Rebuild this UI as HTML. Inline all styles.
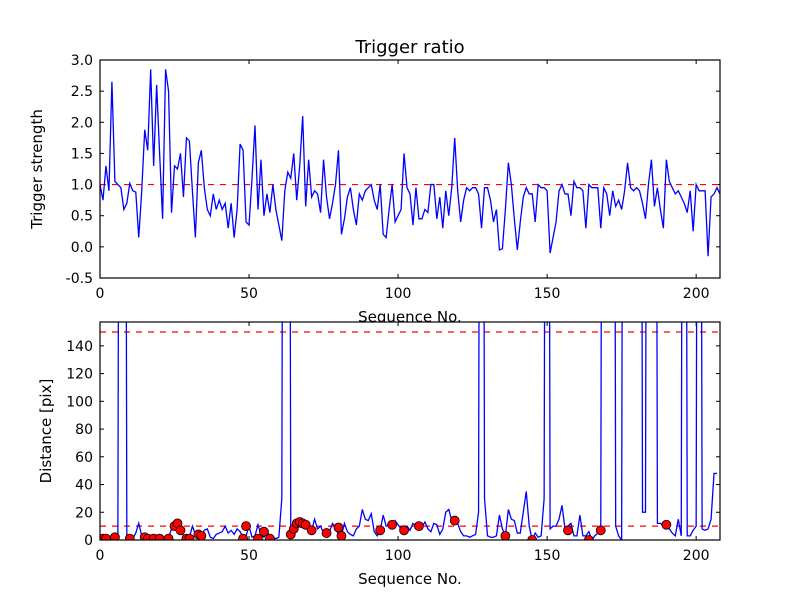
<!DOCTYPE html>
<html><head><meta charset="utf-8"><style>
html,body{margin:0;padding:0;background:#fff;}
svg{display:block;font-family:"DejaVu Sans","Liberation Sans",sans-serif;}
</style></head><body>
<svg id="chart" width="800" height="600" viewBox="0 0 800 600"></svg>
<script>
const ratioValues=[1.0,0.75,1.3,0.9,2.65,1.05,1.0,0.95,0.6,0.7,1.02,0.9,0.88,0.15,0.9,1.88,1.55,2.85,1.3,2.6,1.5,0.45,2.85,2.5,0.55,1.3,1.25,1.5,0.8,1.75,1.7,0.9,0.15,1.35,1.55,0.95,0.6,0.5,0.85,0.6,0.75,0.6,0.7,0.3,0.7,0.15,0.6,1.65,1.55,0.4,0.35,1.1,1.95,0.6,1.4,0.5,0.85,0.55,1.0,0.6,0.35,0.1,0.9,1.2,1.1,1.5,0.75,1.3,2.1,0.65,1.4,0.8,0.9,0.85,0.55,1.4,0.8,0.45,0.7,1.0,1.55,0.2,0.45,0.8,0.95,0.6,0.35,0.85,0.75,0.9,0.95,1.0,0.75,0.6,1.0,0.2,0.15,0.6,1.0,0.4,0.5,0.6,1.5,0.95,0.85,0.35,0.95,0.45,0.45,0.6,0.55,1.0,1.0,0.45,0.8,0.3,0.9,0.5,0.95,1.75,0.9,0.4,0.75,0.95,0.9,0.95,0.95,0.85,0.3,0.95,0.95,0.75,0.4,0.6,-0.05,-0.03,0.6,1.35,1.0,0.45,-0.05,0.4,0.8,0.95,0.85,0.85,0.4,1.0,0.95,0.95,0.9,-0.1,0.15,0.4,0.9,1.0,0.85,0.85,0.5,1.05,0.95,0.95,0.9,0.3,1.0,0.95,0.95,0.95,0.3,0.95,0.85,0.5,0.9,0.65,0.75,0.6,0.9,1.35,0.95,0.9,0.95,0.9,0.7,0.45,1.0,1.4,0.65,0.95,0.6,0.3,1.4,1.05,0.95,0.85,0.9,0.8,0.7,0.55,0.9,0.25,1.0,0.9,0.9,0.9,-0.15,0.8,0.85,0.95,0.85];
const distValues=[2,1,1,1,2,2,3,1000,1000,2,1,1,5,12,3,2,2,1,1,2,1,1,2,2,8,11,12,8,3,1,2,10,4,4,3,7,8,2,1,4,5,6,10,5,7,4,8,6,2,3,10,2,3,11,4,2,6,3,2,1,2,30,1000,1000,4,10,13,13,12,10,8,7,15,8,10,5,8,6,12,9,4,3,12,6,4,3,8,10,22,15,14,19,6,3,7,18,10,11,9,14,11,8,6,10,7,12,10,10,9,13,8,6,12,11,4,8,20,22,14,12,12,6,3,3,2,3,4,20,1000,30,3,2,2,3,18,8,3,22,15,14,5,5,20,35,10,0,5,2,3,30,1000,8,10,10,15,25,8,10,12,3,3,18,3,3,6,0,3,5,7,1000,1000,1000,1000,10,3,0,1000,1000,1000,1000,1000,1000,20,20,1000,1000,1000,12,12,10,11,8,5,3,15,3,1000,3,3,7,10,1000,8,7,8,15,48,48];
const markerIdx=[1,2,5,10,15,16,18,20,23,25,26,27,29,30,33,34,48,49,53,55,57,64,65,66,67,68,69,71,76,80,81,94,98,102,107,119,136,145,157,164,168,190];
const markerVal=[1,1,2,1,2,1,1,1,1,10,12,7,1,1,4,3,1,10,1,6,1,4,8,12,13,12,11,7,5,9,3,7,11,7,10,14,3,0,7,0,7,11];
const topTicksY=[-0.5,0.0,0.5,1.0,1.5,2.0,2.5,3.0];
const botTicksY=[0,20,40,60,80,100,120,140];
const ticksX=[0,50,100,150,200];

const NS="http://www.w3.org/2000/svg";
const svg=document.getElementById('chart');
function mk(tag,attrs,parent){const e=document.createElementNS(NS,tag);for(const k in attrs)e.setAttribute(k,attrs[k]);(parent||svg).appendChild(e);return e;}
const L=100,R=720,XMAX=208;
function xs(v){return L+(v/XMAX)*(R-L);}
const T={top:60,bot:278,min:-0.5,max:3.0};
const B={top:322,bot:540,min:0,max:157.2};
function ys(a,v){return a.bot-(v-a.min)/(a.max-a.min)*(a.bot-a.top);}

function axes(a,name,ticksY,fmt,ylabel,clipId){
  const cp=mk('clipPath',{id:clipId});
  mk('rect',{x:L,y:a.top,width:R-L,height:a.bot-a.top},cp);
  ticksY.forEach(t=>{
    const y=ys(a,t);
    const g=mk('g',{});
    
    
    mk('line',{x1:L,x2:L+4,y1:y,y2:y,stroke:'#000'},g);
    mk('line',{x1:R,x2:R-4,y1:y,y2:y,stroke:'#000'},g);
    const tx=mk('text',{x:L-7,y:y+5,'text-anchor':'end','font-size':'14'},g);
    tx.textContent=fmt(t);
  });
  ticksX.forEach(t=>{
    const x=xs(t);
    const g=mk('g',{});
    
    
    mk('line',{x1:x,x2:x,y1:a.bot,y2:a.bot-4,stroke:'#000'},g);
    mk('line',{x1:x,x2:x,y1:a.top,y2:a.top+4,stroke:'#000'},g);
    const tx=mk('text',{x:x,y:a.bot+20,'text-anchor':'middle','font-size':'14'},g);
    tx.textContent=t;
  });
  const yl=mk('text',{x:0,y:0,'text-anchor':'middle','font-size':'15',transform:`translate(${name==='top'?42:51},${(a.top+a.bot)/2}) rotate(-90)`});
  
  
  yl.textContent=ylabel;
  const xl=mk('text',{x:(L+R)/2,y:a.bot+44,'text-anchor':'middle','font-size':'15'});
  
  
  xl.textContent='Sequence No.';
}

// top
axes(T,'top',topTicksY,v=>v.toFixed(1),'Trigger strength','ct');
const thr=mk('line',{x1:L,x2:R,y1:ys(T,1.0),y2:ys(T,1.0),stroke:'#f00','stroke-width':1.2,'stroke-dasharray':'6,6'});


const p1=mk('polyline',{points:ratioValues.map((v,i)=>xs(i)+','+ys(T,v)).join(' '),fill:'none',stroke:'#00f','stroke-width':1.3,'clip-path':'url(#ct)'});


const f1=mk('rect',{x:L,y:T.top,width:R-L,height:T.bot-T.top,fill:'none',stroke:'#000','stroke-width':1.2});


const ti=mk('text',{x:(L+R)/2,y:53,'text-anchor':'middle','font-size':'18'});


ti.textContent='Trigger ratio';

// bottom (draw bg to cover top xlabel overlap)
mk('rect',{x:L,y:B.top,width:R-L,height:B.bot-B.top,fill:'#fff'});
axes(B,'bottom',botTicksY,v=>String(v),'Distance [pix]','cb');
[150,10].forEach(v=>{
  const l=mk('line',{x1:L,x2:R,y1:ys(B,v),y2:ys(B,v),stroke:'#f00','stroke-width':1.2,'stroke-dasharray':'6,6'});
  
  
});
const p2=mk('polyline',{points:distValues.map((v,i)=>xs(i)+','+ys(B,v)).join(' '),fill:'none',stroke:'#00f','stroke-width':1.3,'clip-path':'url(#cb)'});


markerIdx.forEach((ix,k)=>{
  const c=mk('circle',{cx:xs(ix),cy:ys(B,markerVal[k]),r:4.5,fill:'#f00',stroke:'#000','stroke-width':0.8,'clip-path':'url(#cb)'});
  
  
});
const f2=mk('rect',{x:L,y:B.top,width:R-L,height:B.bot-B.top,fill:'none',stroke:'#000','stroke-width':1.2});


</script>
</body></html>
